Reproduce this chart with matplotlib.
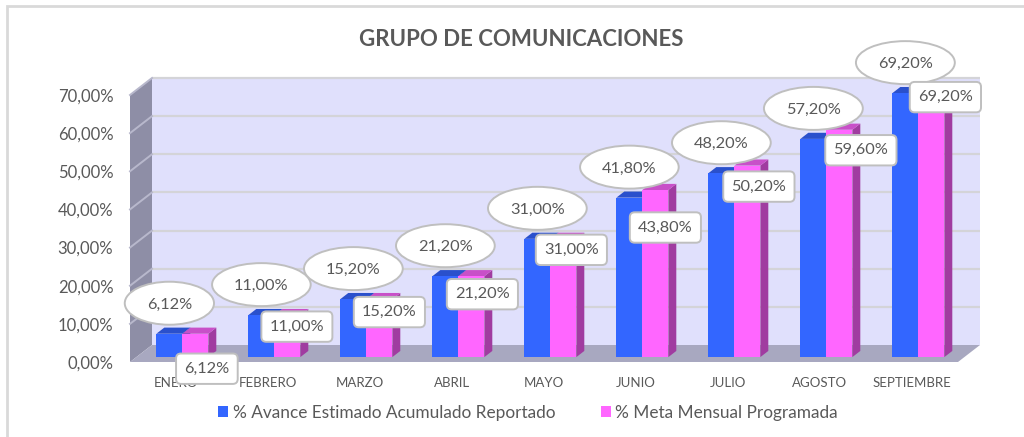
import matplotlib
matplotlib.use("Agg")
import matplotlib.pyplot as plt
from matplotlib.patches import Polygon, Ellipse, Rectangle

# ---------------- data ----------------
categories = ["ENERO", "FEBRERO", "MARZO", "ABRIL", "MAYO",
              "JUNIO", "JULIO", "AGOSTO", "SEPTIEMBRE"]
avance = [6.12, 11.00, 15.20, 21.20, 31.00, 41.80, 48.20, 57.20, 69.20]
meta = [6.12, 11.00, 15.20, 21.20, 31.00, 43.80, 50.20, 59.60, 69.20]
y_ticks = [0, 10, 20, 30, 40, 50, 60, 70]
series_names = ["% Avance Estimado Acumulado Reportado",
                "% Meta Mensual Programada"]
title = "GRUPO DE COMUNICACIONES"

# ---------------- style ----------------
plt.rcParams['font.family'] = ['Lato', 'DejaVu Sans']
TXT = '#595959'
BLUE, BLUE_TOP, BLUE_SIDE = '#3366FF', '#2A50CC', '#2040B0'
PINK, PINK_TOP, PINK_SIDE = '#FF66FF', '#C850C8', '#A03CA0'
WALL, SIDE, FLOOR = '#E0E0FC', '#8E8EA6', '#A8A8C0'

W, H = 1024, 437
fig = plt.figure(figsize=(W / 100, H / 100), dpi=100)
ax = fig.add_axes([130 / W, (H - 362) / H, (958 - 130) / W, (362 - 95) / H])
ax.set_xlim(-0.5, len(categories) - 0.5)
ax.set_ylim(0, 70)
ax.patch.set_visible(False)
for s in ax.spines.values():
    s.set_visible(False)

ppx = (958 - 130) / len(categories)       # pixels per category
ppy = (362 - 95) / 70.0                   # pixels per percent
DX = 22 / ppx                             # depth offset (x) in data units
DY = 17 / ppy                             # depth offset (y) in data units
x0, x1 = -0.5, len(categories) - 0.5

# walls and floor
ax.add_patch(Polygon([(x0 + DX, DY), (x1 + DX, DY), (x1 + DX, 70 + DY), (x0 + DX, 70 + DY)],
                     fc=WALL, ec='none', zorder=0.3, clip_on=False))
ax.add_patch(Polygon([(x0, 0), (x0 + DX, DY), (x0 + DX, 70 + DY), (x0, 70)],
                     fc=SIDE, ec='none', zorder=0.3, clip_on=False))
ax.add_patch(Polygon([(x0, 0), (x1, 0), (x1 + DX, DY), (x0 + DX, DY)],
                     fc=FLOOR, ec='none', zorder=0.4, clip_on=False))
for t in y_ticks[1:]:
    ax.plot([x0 + DX, x1 + DX], [t + DY, t + DY], color='#D4D4D8', lw=1.6,
            zorder=0.35, clip_on=False, solid_capstyle='butt')
    ax.plot([x0, x0 + DX], [t, t + DY], color='#B8B8CC', lw=1.4,
            zorder=0.35, clip_on=False)

# bars
f0 = 0.29          # depth position of bar front
d = 0.36           # bar depth fraction
w = 26 / ppx       # bar width
bx, by = d * DX, d * DY


def draw_bar(xc, v, front, top, side):
    xl, xr = xc - w / 2, xc + w / 2
    b, t = f0 * DY, v + f0 * DY
    ax.add_patch(Polygon([(xr, b), (xr, t), (xr + bx, t + by), (xr + bx, b + by)],
                         fc=side, ec='none', zorder=1, clip_on=False))
    ax.add_patch(Polygon([(xl, t), (xr, t), (xr + bx, t + by), (xl + bx, t + by)],
                         fc=top, ec='none', zorder=1, clip_on=False))
    ax.bar(xc, v, width=w, bottom=b, color=front, zorder=1.1, clip_on=False)


for i in range(len(categories)):
    draw_bar(i + f0 * DX - w / 2, avance[i], BLUE, BLUE_TOP, BLUE_SIDE)
    draw_bar(i + f0 * DX + w / 2, meta[i], PINK, PINK_TOP, PINK_SIDE)

# axes ticks
ax.set_yticks(y_ticks)
ax.set_yticklabels([f"{t:.2f}".replace('.', ',') + '%' for t in y_ticks])
ax.set_xticks(range(len(categories)))
ax.set_xticklabels(categories)
ax.tick_params(axis='y', length=0, pad=12, labelsize=12, labelcolor=TXT)
ax.tick_params(axis='x', length=0, pad=11, labelsize=9.5, labelcolor=TXT)

fmt = lambda v: f"{v:.2f}".replace('.', ',') + '%'

# blue labels in ellipses
renderer = fig.canvas.get_renderer()
for i, v in enumerate(avance):
    xc = i + f0 * DX - w / 2
    yc = v + f0 * DY + 29 / ppy
    txt = ax.text(xc, yc, fmt(v), ha='center', va='center', fontsize=11.8,
                  color=TXT, zorder=5, clip_on=False)
    tw = txt.get_window_extent(renderer).width
    ax.add_patch(Ellipse((xc, yc + 1.5 / ppy), (tw + 44) / ppx, 43 / ppy, fc='white',
                         ec='#BFBFBF', lw=1.4, zorder=4.9, clip_on=False))

# pink labels in rounded boxes (offsets in pixels)
pink_offsets = [(11.5, -35), (9.5, -11.5), (10, -13), (11, -18), (8, -11),
                (10, -37.5), (11.5, -21), (21.5, -20.5), (14, -4)]
for i, v in enumerate(meta):
    xc = i + f0 * DX + w / 2
    yt = v + f0 * DY
    ox, oy = pink_offsets[i]
    ax.annotate(fmt(v), (xc, yt), xytext=(ox, oy), textcoords='offset pixels',
                ha='center', va='center', fontsize=11.8, color=TXT, zorder=6,
                annotation_clip=False,
                bbox=dict(boxstyle='round,pad=0.5,rounding_size=0.3', fc='white',
                          ec='#BFBFBF', lw=1.4))

# title
fig.text(521 / W, (H - 39) / H, title, ha='center', va='center', fontsize=16,
         fontweight='bold', color=TXT)

# legend
handles = [Rectangle((0, 0), 1, 1, fc=BLUE), Rectangle((0, 0), 1, 1, fc=PINK)]
fig.legend(handles, series_names, loc='center', bbox_to_anchor=(528 / W, (H - 413) / H),
           ncol=2, frameon=False, fontsize=12.4, handlelength=0.6, handleheight=0.6,
           handletextpad=0.25, columnspacing=2.65, labelcolor=TXT)

# outer border
fig.add_artist(Rectangle((7 / W, -0.1), 2, (H - 6) / H + 0.1, transform=fig.transFigure,
                         fill=False, ec='#D9D9D9', lw=2))

fig.savefig('out.png', dpi=100)
